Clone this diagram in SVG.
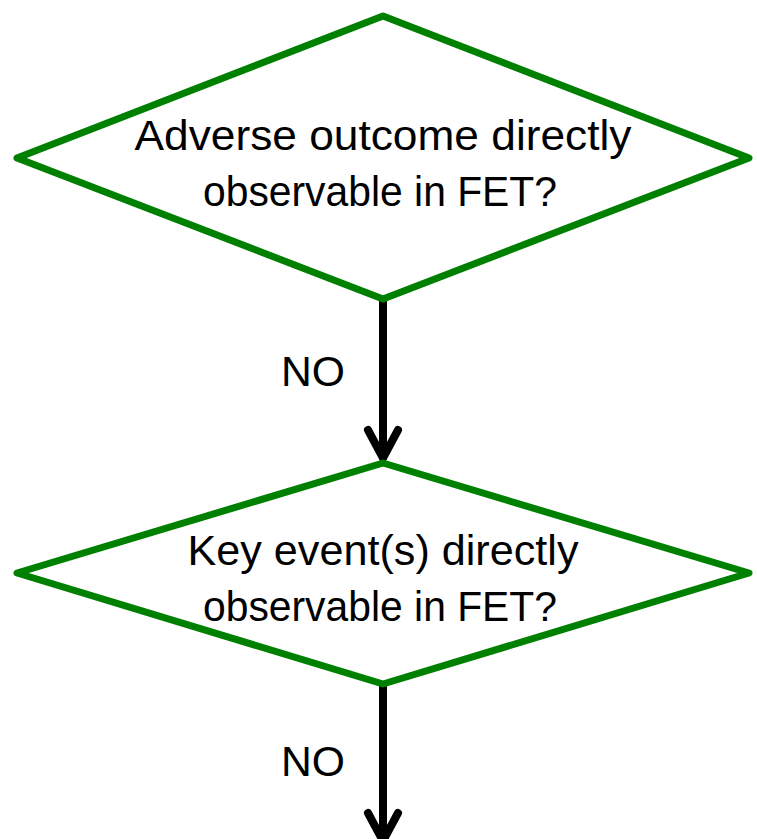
<svg xmlns="http://www.w3.org/2000/svg" width="757" height="839" viewBox="0 0 757 839">
  <style>
    .decision { fill: #ffffff; stroke: #008000; stroke-width: 7; stroke-linejoin: round; }
    .label { font-family: "Liberation Sans", Arial, sans-serif; font-size: 43px; fill: #000000; text-anchor: middle; }
    .flow { stroke: #000000; stroke-width: 8; fill: none; stroke-linecap: butt; }
    .head { stroke: #000000; stroke-width: 8; fill: none; stroke-linecap: round; stroke-linejoin: miter; }
  </style>
  <rect width="757" height="839" fill="#ffffff"/>

  <g id="connectors">
    <line class="flow" x1="383" y1="300" x2="383" y2="456"/>
    <polyline class="head" points="368,430 383,458 398,430"/>
    <text class="label" x="313" y="386" textLength="64" lengthAdjust="spacingAndGlyphs">NO</text>

    <line class="flow" x1="383" y1="685" x2="383" y2="839"/>
    <polyline class="head" points="368,813 383,841 398,813"/>
    <text class="label" x="313" y="776" textLength="64" lengthAdjust="spacingAndGlyphs">NO</text>
  </g>

  <g id="adverse-outcome">
    <polygon class="decision" points="383,16 749,158 383,299 17,158"/>
    <text class="label" x="383" y="150" textLength="497" lengthAdjust="spacingAndGlyphs">Adverse outcome directly</text>
    <text class="label" x="380" y="206" textLength="354" lengthAdjust="spacingAndGlyphs">observable in FET?</text>
  </g>

  <g id="key-events">
    <polygon class="decision" points="383,463 749,573 383,684 17,573"/>
    <text class="label" x="383" y="565" textLength="391" lengthAdjust="spacingAndGlyphs">Key event(s) directly</text>
    <text class="label" x="380" y="621" textLength="354" lengthAdjust="spacingAndGlyphs">observable in FET?</text>
  </g>
</svg>
